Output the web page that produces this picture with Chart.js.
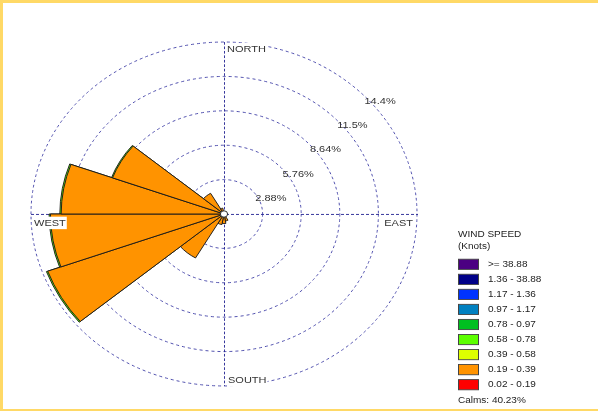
<!DOCTYPE html>
<html><head><meta charset="utf-8">
<script src="https://cdn.jsdelivr.net/npm/chart.js@4.4.1/dist/chart.umd.min.js"></script>
<style>
html,body{margin:0;padding:0;background:#fff;}
#wrap{position:relative;width:598px;height:411px;overflow:hidden;}
#frame{position:absolute;left:0;top:0;width:598px;height:411px;box-sizing:border-box;border-top:3px solid #FFD966;border-left:3px solid #FFD966;border-bottom:2px solid #FFD966;pointer-events:none;}
canvas{position:absolute;left:0;top:0;}
</style></head><body>
<div id="wrap"><canvas id="c" width="598" height="411" style="width:598px;height:411px"></canvas><div id="frame"></div></div>
<script>
// 18 direction sectors of 20 degrees, centred on 0, 20, ... 340
const directions = ['0°','20°','40°','60°','80°','100°','120°','140°','160°','180°','200°','220°','240°','260°','280°','300°','320°','340°'];
const speedBands = ['0.02 - 0.19','0.19 - 0.39','0.39 - 0.58','0.58 - 0.78','0.78 - 0.97','0.97 - 1.17','1.17 - 1.36','1.36 - 38.88','>= 38.88'];
const bandColors = ['#FF0000','#FF9300','#DDFF00','#5CFF00','#00C020','#0080C0','#0033FF','#000088','#4B0082'];
// percent frequency per sector for each speed band
const band_002_019 = [0.05,0.03,0.03,0.03,0.03,0.03,0.05,0.05,0.10,0.10,0.10,0.15,0.20,0.20,0.20,0.20,0.10,0.08];
const band_019_039 = [0.10,0.07,0.07,0.07,0.07,0.07,0.10,0.15,0.50,0.70,0.80,4.10,13.80,12.75,11.95,8.65,1.90,0.42];
const band_039_058 = [0,0,0,0,0,0,0,0,0,0,0,0,0,0,0,0,0,0];
const band_058_078 = [0,0,0,0,0,0,0,0,0,0,0,0,0.10,0.10,0.10,0.08,0,0];
const band_078_097 = [0,0,0,0,0,0,0,0,0,0,0,0,0,0,0,0,0,0];
const band_097_117 = [0,0,0,0,0,0,0,0,0,0,0,0,0,0,0,0,0,0];
const band_117_136 = [0,0,0,0,0,0,0,0,0,0,0,0,0,0,0,0,0,0];
const band_136_3888 = [0,0,0,0,0,0,0,0,0,0,0,0,0,0,0,0,0,0];
const band_ge_3888 = [0,0,0,0,0,0,0,0,0,0,0,0,0,0,0,0,0,0];
const bandValues = [band_002_019,band_019_039,band_039_058,band_058_078,band_078_097,band_097_117,band_117_136,band_136_3888,band_ge_3888];
const ringValues = [0, 2.88, 5.76, 8.64, 11.52, 14.4];
const ringLabels = ['2.88%','5.76%','8.64%','11.5%','14.4%'];
const compassLabels = ['NORTH','EAST','SOUTH','WEST'];
const legendTitle = ['WIND SPEED','(Knots)'];
const calmsText = 'Calms: 40.23%';

// stacked (cumulative) radii per band
const cumulative = bandValues.map((vals, j) => vals.map((v, i) => {
  if (!v) return 0;
  let s = 0; for (let b = 0; b <= j; b++) s += bandValues[b][i];
  return +s.toFixed(4);
}));

const K = 0.891; // vertical squash of the original picture
const FONT = '"Liberation Sans", Arial, sans-serif';

const rosePlugin = {
  id: 'rose',
  beforeDraw(chart) {
    const s = chart.scales.r, ctx = chart.ctx;
    ctx.save();
    ctx.translate(0, s.yCenter * (1 - K));
    ctx.scale(1, K);
  },
  beforeDatasetsDraw(chart) {
    const s = chart.scales.r, ctx = chart.ctx;
    const cx = s.xCenter, cy = s.yCenter, R = s.drawingArea;
    ctx.save();
    ctx.strokeStyle = '#2b2b96';
    ctx.lineWidth = 1;
    ctx.setLineDash([3, 2]);
    ctx.beginPath();
    ctx.moveTo(cx + 0.5, cy - R); ctx.lineTo(cx + 0.5, cy + R);
    ctx.moveTo(cx - R, cy + 0.5); ctx.lineTo(cx + R + 1, cy + 0.5);
    ctx.stroke();
    ctx.restore();
  },
  afterDatasetsDraw(chart) {
    const s = chart.scales.r, ctx = chart.ctx;
    const cx = s.xCenter, cy = s.yCenter, R = s.drawingArea;
    const U = ys => cy + (ys - cy) / K;
    ctx.save();
    // calm circle
    ctx.beginPath();
    ctx.arc(cx, cy, 3.6, 0, Math.PI * 2);
    ctx.fillStyle = '#fff'; ctx.fill();
    ctx.strokeStyle = '#222'; ctx.lineWidth = 1; ctx.stroke();
    // ring labels
    ctx.font = '11px ' + FONT;
    ctx.textBaseline = 'middle';
    ctx.textAlign = 'left';
    ctx.fillStyle = '#333';
    ringValues.slice(1).forEach((v, i) => {
      const d = s.getDistanceFromCenterForValue(v);
      ctx.fillText(ringLabels[i], cx + d * Math.SQRT1_2 + 4, cy - d * Math.SQRT1_2 + 9.5);
    });
    // compass labels with white background
    const pos = [
      [cx + 3, cy - R + 8, 'left'],
      [cx + R - 4, cy + 10, 'right'],
      [cx + 4, cy + R - 6, 'left'],
      [cx - R + 3, cy + 10, 'left']
    ];
    compassLabels.forEach((t, i) => {
      const [x, y, al] = pos[i];
      const w = ctx.measureText(t).width;
      const x0 = al === 'left' ? x : x - w;
      ctx.fillStyle = '#fff';
      ctx.fillRect(x0 - 1, y - 7, w + 2, 14);
      ctx.fillStyle = '#333';
      ctx.textAlign = 'left';
      ctx.fillText(t, x0, y);
    });
    // legend
    ctx.font = '10px ' + FONT;
    ctx.fillStyle = '#222';
    ctx.fillText(legendTitle[0], 458, U(235));
    ctx.fillText(legendTitle[1], 458, U(246.5));
    for (let j = speedBands.length - 1; j >= 0; j--) {
      const r = speedBands.length - 1 - j;
      const yc = 264.3 + 15.05 * r;
      const top = U(yc - 5.1), h = 10.2 / K;
      ctx.fillStyle = bandColors[j];
      ctx.fillRect(458.5, top, 20, h);
      ctx.strokeStyle = '#444';
      ctx.strokeRect(458.5, top, 20, h);
      ctx.fillStyle = '#222';
      ctx.fillText(speedBands[j], 488, U(yc));
    }
    ctx.fillText(calmsText, 458, U(401));
    ctx.restore();
  },
  afterDraw(chart) {
    chart.ctx.restore();
  }
};

new Chart(document.getElementById('c'), {
  type: 'polarArea',
  data: {
    labels: directions,
    datasets: speedBands.map((b, j) => ({
      label: b,
      data: cumulative[j],
      backgroundColor: bandColors[j],
      borderColor: '#1a1a1a',
      borderWidth: 1,
      clip: false
    }))
  },
  options: {
    responsive: false,
    animation: false,
    devicePixelRatio: 1,
    layout: { padding: { left: 31, right: 181, top: 21, bottom: 4 } },
    plugins: { legend: { display: false }, tooltip: { enabled: false }, title: { display: false } },
    scales: {
      r: {
        min: 0, max: 14.4,
        startAngle: -10,
        afterBuildTicks: (sc) => { sc.ticks = ringValues.map(v => ({ value: v })); },
        ticks: { display: false },
        grid: { circular: true, color: '#4848aa', lineWidth: 1 },
        border: { dash: [3, 3] },
        angleLines: { display: false },
        pointLabels: { display: false }
      }
    }
  },
  plugins: [rosePlugin]
});
</script>
</body></html>
